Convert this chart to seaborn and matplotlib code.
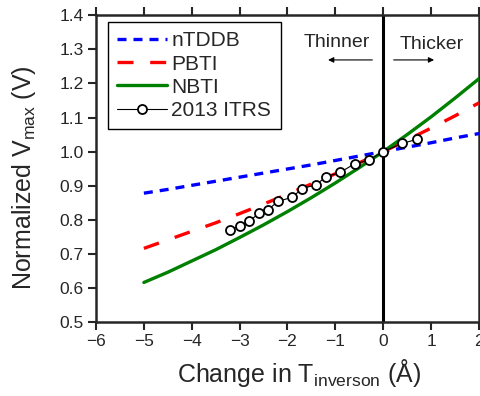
import numpy as np
import matplotlib
matplotlib.use('Agg')
import matplotlib.pyplot as plt
import pandas as pd
import seaborn as sns

sns.set_style('ticks')
plt.rcParams['font.family'] = ['Liberation Sans', 'DejaVu Sans']
plt.rcParams['mathtext.fontset'] = 'custom'
plt.rcParams['mathtext.rm'] = 'Liberation Sans'

# curves
x_curve = [-5, -4.5, -4, -3.5, -3, -2.5, -2, -1.5, -1, -0.5, 0, 0.5, 1, 1.5, 2]
ntddb = [0.878, 0.889, 0.901, 0.913, 0.925, 0.937, 0.949, 0.961, 0.974, 0.987,
         1.0, 1.013, 1.026, 1.040, 1.053]
pbti = [0.716, 0.741, 0.766, 0.791, 0.818, 0.846, 0.875, 0.905, 0.935, 0.967,
        1.0, 1.034, 1.069, 1.105, 1.143]
nbti = [0.616, 0.646, 0.679, 0.712, 0.748, 0.785, 0.824, 0.865, 0.908, 0.953,
        1.0, 1.050, 1.102, 1.157, 1.214]

# 2013 ITRS points
x_itrs = [-3.2, -3.0, -2.8, -2.6, -2.4, -2.2, -1.9, -1.7, -1.4, -1.2, -0.9, -0.6, -0.3, 0.0, 0.4, 0.7]
y_itrs = [0.770, 0.782, 0.795, 0.819, 0.830, 0.854, 0.866, 0.891, 0.903, 0.926,
          0.939, 0.964, 0.975, 1.0, 1.024, 1.036]

curves = pd.DataFrame({'x': x_curve, 'nTDDB': ntddb, 'PBTI': pbti, 'NBTI': nbti})
itrs = pd.DataFrame({'x': x_itrs, 'y': y_itrs})

fig = plt.figure(figsize=(4.81, 3.96), dpi=100)
ax = fig.add_axes([0.1996, 0.1869, 0.7962, 0.7745])

ax.axvline(0, color='black', lw=2.2, zorder=1)

sns.lineplot(data=curves, x='x', y='nTDDB', ax=ax, color='#0000ff', lw=2.4,
             linestyle=(0, (2.7, 2.1)), label='nTDDB', zorder=3)
sns.lineplot(data=curves, x='x', y='PBTI', ax=ax, color='#ff0000', lw=2.4,
             linestyle=(0, (4.8, 5.0)), label='PBTI', zorder=3)
sns.lineplot(data=curves, x='x', y='NBTI', ax=ax, color='#008000', lw=2.4,
             label='NBTI', zorder=3)
sns.lineplot(data=itrs, x='x', y='y', ax=ax, color='black', lw=0.8,
             marker='o', markersize=6.5, markerfacecolor='white',
             markeredgecolor='black', markeredgewidth=1.3,
             label='2013 ITRS', zorder=4)

ax.set_xlim(-6, 2)
ax.set_ylim(0.5, 1.4)
ax.set_xticks(np.arange(-6, 3, 1))
ax.set_yticks(np.round(np.arange(0.5, 1.41, 0.1), 1))
ax.set_yticklabels(['%.1f' % v for v in np.arange(0.5, 1.41, 0.1)])

for s in ax.spines.values():
    s.set_linewidth(1.8)
    s.set_visible(True)
ax.tick_params(which='both', direction='out', length=6, width=1.5,
               labelsize=12.5, top=True, right=True, pad=3)

ax.set_xlabel(r'Change in T$_{\mathregular{inverson}}$ ($\mathregular{\AA}$)', fontsize=18)
ax.set_ylabel(r'Normalized V$_{\mathregular{max}}$ (V)', fontsize=18)
ax.xaxis.set_label_coords(0.53, -0.115)
ax.yaxis.set_label_coords(-0.152, 0.47)

ax.text(-0.97, 1.32, 'Thinner', ha='center', va='center', fontsize=14)
ax.text(1.01, 1.313, 'Thicker', ha='center', va='center', fontsize=14)
ax.annotate('', xy=(-1.21, 1.269), xytext=(-0.17, 1.269),
            arrowprops=dict(arrowstyle='-|>', color='black', lw=0.8, mutation_scale=8))
ax.annotate('', xy=(1.12, 1.269), xytext=(0.16, 1.269),
            arrowprops=dict(arrowstyle='-|>', color='black', lw=0.8, mutation_scale=8))

leg = ax.legend(loc='upper left', bbox_to_anchor=(0.031, 0.978), borderaxespad=0,
                fontsize=15, frameon=True, fancybox=False, handlelength=2.4,
                handletextpad=0.2, labelspacing=0.2, borderpad=0.45)
leg.get_frame().set_edgecolor('black')
leg.get_frame().set_linewidth(1.0)
leg.get_frame().set_alpha(1)

fig.savefig('out.png', dpi=100)
